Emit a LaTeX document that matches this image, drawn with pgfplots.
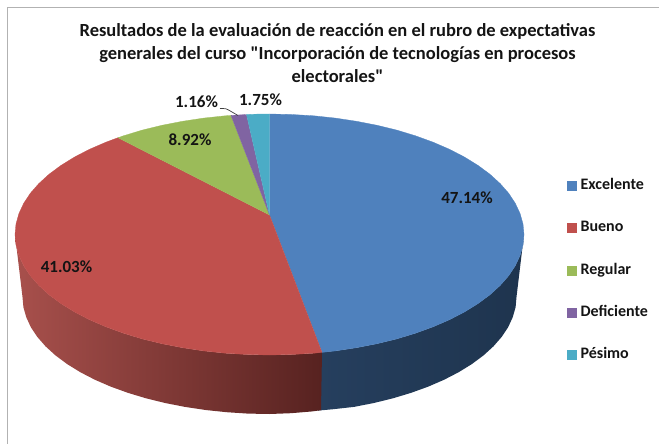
\documentclass[border=0pt]{standalone}
\usepackage{pgfplots}
\pgfplotsset{compat=1.18}
\usepackage{fontspec}
\setmainfont{Carlito}[Ligatures=TeXOff]
\definecolor{azul}{HTML}{4F81BD}
\definecolor{rojo}{HTML}{C0504D}
\definecolor{verde}{HTML}{9BBB59}
\definecolor{morado}{HTML}{8064A2}
\definecolor{cian}{HTML}{4BACC6}
\definecolor{tinta}{HTML}{141414}
\definecolor{bordeazul}{HTML}{1E344E}
\definecolor{bordeazulb}{HTML}{263F5E}
\definecolor{borderojo}{HTML}{A8504C}
\definecolor{borderojob}{HTML}{572220}

\begin{document}
\begin{tikzpicture}
  \useasboundingbox (0,0) rectangle (659pt,444pt);
  % axis runs in reference pixels, y downwards
  \begin{axis}[
    scale only axis,width=659pt,height=444pt,
    xmin=0,xmax=659,ymin=0,ymax=444,y dir=reverse,
    hide axis,clip=false,
    legend style={at={(0.8605,0.596)},anchor=north west,draw=none,fill=none,
      font=\fontsize{16}{16}\selectfont\bfseries\color{tinta},
      row sep=29.3pt,inner sep=0pt,
      nodes={text height=10pt,text depth=3pt,inner xsep=4pt,inner ysep=0pt}},
    legend cell align=left,
    legend image code/.code={\fill[#1] (0pt,-4pt) rectangle (9pt,5pt);},
  ]
    % chart frame, cut by the picture edge
    \addplot[forget plot,mark=none,color=black!30,line width=1pt]
      coordinates {(7.5,444) (7.5,7.5) (659,7.5)};

    % rim, blue part (runs a little under the red part)
    \addplot[forget plot,mark=none,draw=none,left color=bordeazulb,right color=bordeazul]
      coordinates {(318,352.4) (335.4,350.9) (356.5,347.7) (377.1,343.7) (396.8,338.9) (415.5,333.2)
        (433.1,326.8) (449.5,319.7) (464.4,312) (478,303.6) (489.9,294.8) (500.2,285.4) (508.7,275.7)
        (515.3,265.7) (520.1,255.4) (523,245) (524,234.5)
        (516.5,297) (515.6,307.2) (512.7,317.3) (508.1,327.3) (501.6,337) (493.4,346.4) (483.4,355.5)
        (471.8,364.1) (458.7,372.2) (444.2,379.7) (428.3,386.6) (411.2,392.8) (393,398.3) (373.9,403)
        (354,406.9) (333.4,409.2) (318,410.6)};
    % rim, red part
    \addplot[forget plot,mark=none,draw=none,left color=borderojo,right color=borderojob]
      coordinates {(322,352.4) (313.7,353.2) (291.7,354.5) (269.5,355) (247.3,354.5) (225.3,353.2)
        (203.6,350.9) (182.5,347.7) (161.9,343.7) (142.2,338.9) (123.5,333.2) (105.9,326.8) (89.5,319.7)
        (74.6,312) (61,303.6) (49.1,294.8) (38.8,285.4) (30.3,275.7) (23.7,265.7) (18.9,255.4) (16,245) (15,234.5)
        (22.5,297) (23.4,307.2) (26.3,317.3) (30.9,327.3) (37.4,337) (45.6,346.4) (55.6,355.5) (67.2,364.1)
        (80.3,372.2) (94.8,379.7) (110.7,386.6) (127.8,392.8) (146,398.3) (165.1,403) (185,406.9) (205.6,410)
        (226.6,412.2) (248,413.6) (269.5,414) (291,413.2) (312.4,411.4) (321,410.2)};

    % top face
    \addplot[mark=none,fill=azul,draw=azul,line width=0.3pt]
      coordinates {(269.5,215) (269.5,114) (291.7,114.5) (313.7,115.8) (335.4,118.1) (356.5,121.3) (377.1,125.3)
        (396.8,130.1) (415.5,135.8) (433.1,142.2) (449.5,149.3) (464.4,157) (478,165.4) (489.9,174.2)
        (500.2,183.6) (508.7,193.3) (515.3,203.3) (520.1,213.6) (523,224) (524,234.5) (523,245) (520.1,255.4)
        (515.3,265.7) (508.7,275.7) (500.2,285.4) (489.9,294.8) (478,303.6) (464.4,312) (449.5,319.7)
        (433.1,326.8) (415.5,333.2) (396.8,338.9) (377.1,343.7) (356.5,347.7) (335.4,350.9) (322,352.4)};
    \addlegendentry{Excelente}
    \addplot[mark=none,fill=rojo,draw=rojo,line width=0.3pt]
      coordinates {(269.5,215) (322,352.4) (313.7,353.2) (291.7,354.5) (269.5,355) (247.3,354.5) (225.3,353.2)
        (203.6,350.9) (182.5,347.7) (161.9,343.7) (142.2,338.9) (123.5,333.2) (105.9,326.8) (89.5,319.7)
        (74.6,312) (61,303.6) (49.1,294.8) (38.8,285.4) (30.3,275.7) (23.7,265.7) (18.9,255.4) (16,245) (15,234.5)
        (16,224) (18.9,213.6) (23.7,203.3) (30.3,193.3) (38.8,183.6) (49.1,174.2) (61,165.4) (74.6,157)
        (89.5,149.3) (105.9,142.2) (118,137.7)};
    \addlegendentry{Bueno}
    \addplot[mark=none,fill=verde,draw=verde,line width=0.3pt]
      coordinates {(269.5,215) (118,137.7) (123.5,135.8) (142.2,130.1) (161.9,125.3) (182.5,121.3)
        (203.6,118.1) (225.3,115.8) (231,115.4)};
    \addlegendentry{Regular}
    \addplot[mark=none,fill=morado,draw=morado,line width=0.3pt]
      coordinates {(269.5,215) (231,115.4) (246.5,114.5)};
    \addlegendentry{Deficiente}
    \addplot[mark=none,fill=cian,draw=cian,line width=0.3pt]
      coordinates {(269.5,215) (246.5,114.5) (258,114.1) (269.5,114)};
    \addlegendentry{Pésimo}

    % leader of the 1.16% label
    \addplot[forget plot,mark=none,smooth,color=black!75,line width=0.7pt]
      coordinates {(220,108.5) (226,108.8) (232,112) (238,115.5)};

    \node[align=center,text=tinta,font=\fontsize{18.5}{23}\selectfont\bfseries] at (axis cs:337.5,53)
      {Resultados de la evaluación de reacción en el rubro de expectativas\\
       generales del curso "Incorporación de tecnologías en procesos\\
       electorales"};
    \node[text=tinta,font=\fontsize{17}{17}\selectfont\bfseries] at (axis cs:467,198) {47.14\%};
    \node[text=tinta,font=\fontsize{17}{17}\selectfont\bfseries] at (axis cs:66.5,267) {41.03\%};
    \node[text=tinta,font=\fontsize{17}{17}\selectfont\bfseries] at (axis cs:190,140) {8.92\%};
    \node[text=tinta,font=\fontsize{17}{17}\selectfont\bfseries] at (axis cs:196.5,102) {1.16\%};
    \node[text=tinta,font=\fontsize{17}{17}\selectfont\bfseries] at (axis cs:260.5,100) {1.75\%};
  \end{axis}
\end{tikzpicture}
\end{document}
